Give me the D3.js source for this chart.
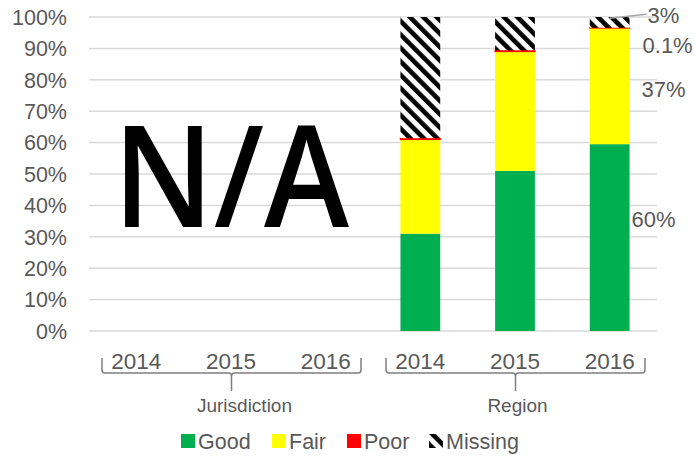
<!DOCTYPE html>
<html>
<head>
<meta charset="utf-8">
<script src="https://cdn.jsdelivr.net/npm/d3@7"></script>
<style>
  body { margin: 0; background: #fff; }
  text { font-family: "Liberation Sans", Arial, sans-serif; fill: #595959; }
</style>
</head>
<body>
<div id="chart"></div>
<script>
const width = 695;
const height = 457;
const margin = { top: 17, right: 38, bottom: 126, left: 89 };

// data
const groups = ["Jurisdiction", "Region"];
const years = ["2014", "2015", "2016"];
const series = ["Good", "Fair", "Poor", "Missing"];
const good = [null, null, null, 31, 51, 59.5];
const fair = [null, null, null, 30, 38, 37];
const poor = [null, null, null, 0.4, 0.4, 0.1];
const missing = [null, null, null, 38.6, 10.6, 3.4];
const yTicks = [0, 10, 20, 30, 40, 50, 60, 70, 80, 90, 100];
// data labels for Region 2016: text and the value height they sit at
const labelText = ["60%", "37%", "0.1%", "3%"];
const labelAt = [35.5, 77, 91, 100.5];

const color = d3.scaleOrdinal()
  .domain(series)
  .range(["#00B050", "#FFFF00", "#FF0000", "url(#hatch)"]);

const cats = [];
groups.forEach((g) => years.forEach((y) => cats.push(g + "|" + y)));

const rows = cats.map((c, i) => ({
  key: c, Good: good[i] || 0, Fair: fair[i] || 0, Poor: poor[i] || 0, Missing: missing[i] || 0
}));

const x = d3.scaleBand()
  .domain(cats)
  .range([margin.left, width - margin.right])
  .paddingInner(0.58)
  .paddingOuter(0.29);

const y = d3.scaleLinear()
  .domain([0, 100])
  .range([height - margin.bottom, margin.top]);

const svg = d3.select("#chart")
  .append("svg")
  .attr("width", width)
  .attr("height", height);

const pattern = svg.append("defs")
  .append("pattern")
  .attr("id", "hatch")
  .attr("patternUnits", "userSpaceOnUse")
  .attr("width", 9.5)
  .attr("height", 9.5)
  .attr("patternTransform", "rotate(-45)");
pattern.append("rect").attr("width", 9.5).attr("height", 9.5).attr("fill", "#fff");
pattern.append("rect").attr("width", 4.6).attr("height", 9.5).attr("fill", "#000");

// gridlines
svg.append("g")
  .selectAll("line")
  .data(yTicks)
  .join("line")
  .attr("x1", margin.left)
  .attr("x2", width - margin.right)
  .attr("y1", (d) => y(d))
  .attr("y2", (d) => y(d))
  .attr("stroke", "#d9d9d9")
  .attr("stroke-width", 1.5);

// y labels
svg.append("g")
  .selectAll("text")
  .data(yTicks)
  .join("text")
  .attr("x", 67)
  .attr("y", (d) => y(d))
  .attr("dy", "0.36em")
  .attr("text-anchor", "end")
  .style("font-size", "21.5px")
  .text((d) => d + "%");

// stacked bars
const stacked = d3.stack().keys(series)(rows);
svg.append("g")
  .selectAll("g")
  .data(stacked)
  .join("g")
  .attr("fill", (d) => color(d.key))
  .each(function (s) {
    d3.select(this)
      .selectAll("rect")
      .data(s.filter((d) => d[1] > d[0]))
      .join("rect")
      .attr("x", (d) => x(d.data.key))
      .attr("width", x.bandwidth())
      .attr("y", (d) => y(d[1]))
      .attr("height", (d) => y(d[0]) - y(d[1]))
      .attr("stroke", s.key == "Poor" ? "#FF0000" : "none")
      .attr("stroke-width", 1.2);
  });

// data labels on the last bar
const last = cats[cats.length - 1];
const lx = x(last) + x.bandwidth();
svg.append("line")
  .attr("x1", lx - 20)
  .attr("y1", y(99.6))
  .attr("x2", lx + 17)
  .attr("y2", y(100.9))
  .attr("stroke", "#a6a6a6")
  .attr("stroke-width", 1.5);

svg.append("g")
  .selectAll("text")
  .data(labelText)
  .join("text")
  .attr("x", (d, i) => lx + [2, 12, 13, 18][i])
  .attr("y", (d, i) => y(labelAt[i]))
  .attr("dy", "0.36em")
  .style("font-size", "22px")
  .text((d) => d);

// N/A over the empty group
const jCats = cats.filter((c) => c.startsWith(groups[0]));
svg.append("text")
  .attr("x", x(jCats[1]) + x.bandwidth() / 2)
  .attr("y", y(33))
  .attr("text-anchor", "middle")
  .style("font-family", "'Open Sans', sans-serif")
  .style("font-weight", "600")
  .style("font-size", "141px")
  .style("fill", "#000")
  .attr("textLength", 236)
  .attr("lengthAdjust", "spacingAndGlyphs")
  .text("N/A");

// category axis: year labels
svg.append("g")
  .selectAll("text")
  .data(cats)
  .join("text")
  .attr("x", (d) => x(d) + x.bandwidth() / 2)
  .attr("y", 369)
  .attr("text-anchor", "middle")
  .style("font-size", "22.5px")
  .text((d) => d.split("|")[1]);

// group braces and labels
const step = x.step();
groups.forEach((g, gi) => {
  const gc = cats.filter((c) => c.startsWith(g));
  const x0 = x(gc[0]) + x.bandwidth() / 2 - step / 2 + 13;
  const x1 = x(gc[gc.length - 1]) + x.bandwidth() / 2 + step / 2 - 12;
  const cx = (x0 + x1) / 2;
  const top = 358, mid = 373, bot = 391, r = 3;
  const p = d3.path();
  p.moveTo(x0, top);
  p.lineTo(x0, mid - r);
  p.quadraticCurveTo(x0, mid, x0 + r, mid);
  p.lineTo(cx - r, mid);
  p.quadraticCurveTo(cx, mid, cx, mid + r);
  p.lineTo(cx, bot);
  p.moveTo(cx, mid + r);
  p.quadraticCurveTo(cx, mid, cx + r, mid);
  p.lineTo(x1 - r, mid);
  p.quadraticCurveTo(x1, mid, x1, mid - r);
  p.lineTo(x1, top);
  svg.append("path")
    .attr("d", p.toString())
    .attr("fill", "none")
    .attr("stroke", "#7f7f7f")
    .attr("stroke-width", 1.5);
  svg.append("text")
    .attr("x", cx + (gi == 0 ? 13 : 2))
    .attr("y", 412)
    .attr("text-anchor", "middle")
    .style("font-size", "19px")
    .text(g);
});

// legend
const legendX = [181, 272, 347, 429];
const legend = svg.append("g")
  .selectAll("g")
  .data(series)
  .join("g")
  .attr("transform", (d, i) => `translate(${legendX[i]},434)`);
legend.append("rect")
  .attr("width", 14)
  .attr("height", 14)
  .attr("fill", (d) => color(d));
legend.append("text")
  .attr("x", 17)
  .attr("y", 14.5)
  .style("font-size", "21.5px")
  .text((d) => d);
</script>
</body>
</html>
